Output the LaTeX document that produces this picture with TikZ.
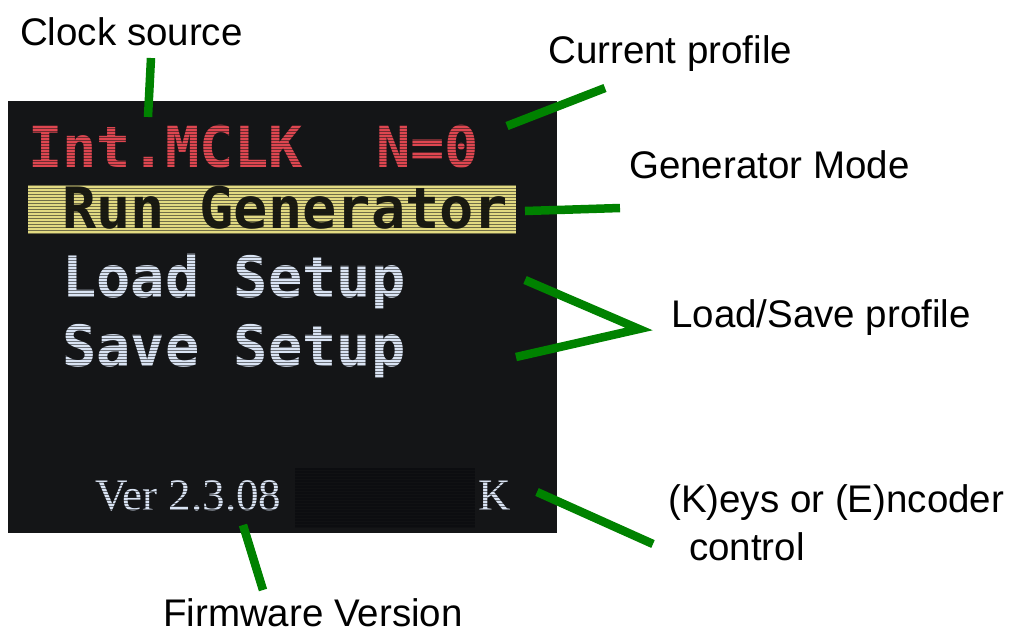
\documentclass[tikz,border=0pt]{standalone}
\usepackage{fontspec}
\setmainfont{Liberation Sans}
\newfontfamily\lcdfont{DejaVu Sans Mono}
\newfontfamily\verfont{Liberation Serif}
\definecolor{screenbg}{RGB}{20,21,23}
\definecolor{hidebox}{RGB}{12,13,16}
\definecolor{lcdred}{RGB}{222,70,80}
\definecolor{barylw}{RGB}{226,218,130}
\definecolor{lcdtxt}{RGB}{26,26,16}
\definecolor{lcdblue}{RGB}{218,228,244}
\definecolor{leader}{RGB}{0,130,0}
\begin{document}
\begin{tikzpicture}[x=1pt,y=-1pt,
  label/.style={anchor=base west,inner sep=0pt,font=\fontsize{38.5}{44}\selectfont},
  lcd/.style={anchor=base west,inner sep=0pt,font=\lcdfont\bfseries\fontsize{57}{60}\selectfont},
  ver/.style={anchor=base west,inner sep=0pt,text=lcdblue,font=\verfont\fontsize{45}{48}\selectfont},
  scan/.style={draw=screenbg,line width=0.9pt,opacity=0.55},
  leadline/.style={draw=leader,line width=8.5pt}]
\useasboundingbox (0,0) rectangle (1015,633);
\fill[white] (0,0) rectangle (1015,633);
% screen
\fill[screenbg] (8,101) rectangle (557,533);
\fill[hidebox] (295,468) rectangle (475,528);
\fill[barylw] (28,185) rectangle (516,234);
\node[lcd,text=lcdred] (clk) at (28,167) {Int.MCLK};
\node[lcd,text=lcdred] (prof) at (376,167) {N=0};
\node[lcd,text=lcdtxt] (run) at (62,228) {Run Generator};
\node[lcd,text=lcdblue] (load) at (62,297) {Load Setup};
\node[lcd,text=lcdblue] (save) at (62,366) {Save Setup};
\node[ver] (ver) at (95,510) {Ver 2.3.08};
\node[ver] (k) at (478,510) {K};
% LCD scan lines
\foreach \yy in {104,107,...,530} {\draw[scan] (8,\yy) -- (557,\yy);}
% labels
\node[label] (lclk) at (20,45) {Clock source};
\node[label] (lprof) at (548,63) {Current profile};
\node[label] (lgen) at (629,178) {Generator Mode};
\node[label] (lls) at (671,327) {Load/Save profile};
\node[label] (lkey) at (668,512) {(K)eys or (E)ncoder};
\node[label] (lctl) at (689,560) {control};
\node[label] (lfw) at (163,626) {Firmware Version};
% leader end points
\coordinate (c1a) at (151,58);   \coordinate (c1b) at (148,117);
\coordinate (c2a) at (605,88);   \coordinate (c2b) at (507,126);
\coordinate (c3a) at (525,211);  \coordinate (c3b) at (620,208);
\coordinate (c4a) at (525,280);  \coordinate (c4m) at (639,329); \coordinate (c4b) at (516,357);
\coordinate (c5a) at (537,492);  \coordinate (c5b) at (653,544);
\coordinate (c6a) at (243,525);  \coordinate (c6b) at (263,590);
\draw[leadline] (c1a) -- (c1b);
\draw[leadline] (c2a) -- (c2b);
\draw[leadline] (c3a) -- (c3b);
\draw[leadline,line join=miter] (c4a) -- (c4m) -- (c4b);
\draw[leadline] (c5a) -- (c5b);
\draw[leadline] (c6a) -- (c6b);
\end{tikzpicture}
\end{document}
